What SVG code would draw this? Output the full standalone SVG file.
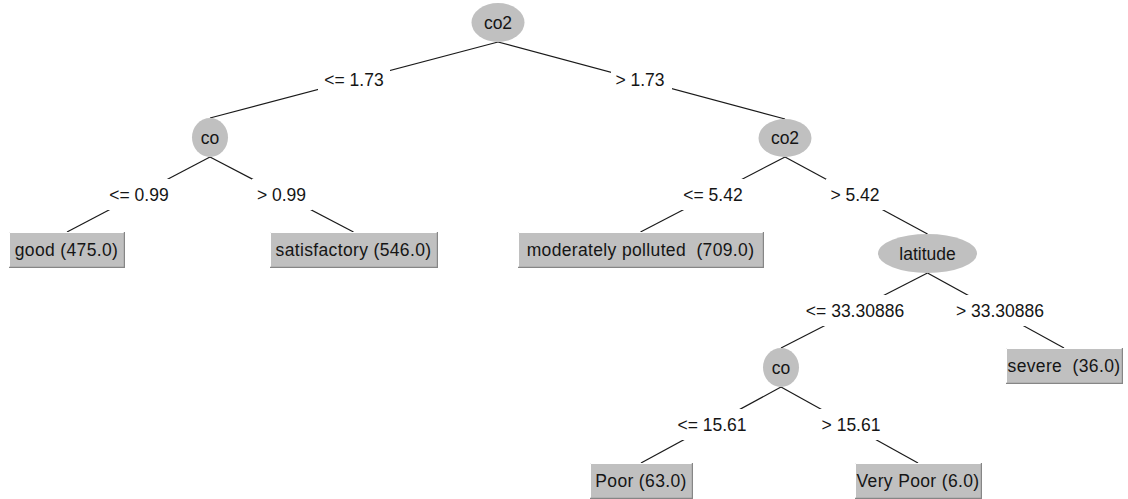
<svg xmlns="http://www.w3.org/2000/svg" width="1128" height="499" viewBox="0 0 1128 499">
<style>
text{font-family:"Liberation Sans",Arial,sans-serif;font-size:17.5px;fill:#151515;text-anchor:middle}
.bt{letter-spacing:0.35px}
.e{fill:#c0c0c0}
.b{fill:#c0c0c0}
.hl{stroke:#ffffff;stroke-width:1;fill:none}
.sh{stroke:#868686;stroke-width:1.2;fill:none}
.ln{stroke:#1a1a1a;stroke-width:1.2}
.lb{fill:#ffffff}
</style>
<rect width="1128" height="499" fill="#ffffff"/>
<g id="connectors">
  <g id="e1"><line class="ln" x1="498" y1="42" x2="210" y2="118"/><rect class="lb" x="318" y="65" width="72" height="31"/><text x="354" y="86">&lt;= 1.73</text></g>
  <g id="e2"><line class="ln" x1="498" y1="42" x2="785" y2="119"/><rect class="lb" x="611" y="65" width="61" height="31"/><text x="640" y="86">&gt; 1.73</text></g>
  <g id="e3"><line class="ln" x1="210" y1="157" x2="67" y2="232"/><rect class="lb" x="105" y="179" width="68" height="31"/><text x="139" y="201">&lt;= 0.99</text></g>
  <g id="e4"><line class="ln" x1="210" y1="157" x2="353.5" y2="232"/><rect class="lb" x="252" y="179" width="60" height="31"/><text x="281.5" y="201">&gt; 0.99</text></g>
  <g id="e5"><line class="ln" x1="785" y1="157" x2="640.5" y2="232"/><rect class="lb" x="679" y="179" width="68" height="31"/><text x="713" y="201">&lt;= 5.42</text></g>
  <g id="e6"><line class="ln" x1="785" y1="157" x2="927.5" y2="234"/><rect class="lb" x="826" y="179" width="60" height="31"/><text x="855" y="201">&gt; 5.42</text></g>
  <g id="e7"><line class="ln" x1="927.5" y1="273" x2="781" y2="348"/><rect class="lb" x="800" y="295" width="110" height="31"/><text x="855" y="317">&lt;= 33.30886</text></g>
  <g id="e8"><line class="ln" x1="927.5" y1="273" x2="1064" y2="348"/><rect class="lb" x="952" y="295" width="98" height="31"/><text x="1000" y="317">&gt; 33.30886</text></g>
  <g id="e9"><line class="ln" x1="781" y1="387" x2="641" y2="463"/><rect class="lb" x="672" y="409" width="80" height="31"/><text x="712" y="431">&lt;= 15.61</text></g>
  <g id="e10"><line class="ln" x1="781" y1="387" x2="918" y2="463"/><rect class="lb" x="817" y="409" width="68" height="31"/><text x="851" y="431">&gt; 15.61</text></g>
</g>
<g id="n-root"><ellipse class="e" cx="498" cy="22.5" rx="26.5" ry="19.5"/><text x="498" y="28.5">co2</text></g>
<g id="n-co1"><ellipse class="e" cx="210" cy="137.5" rx="18" ry="19.5"/><text x="210" y="143.5">co</text></g>
<g id="n-co2b"><ellipse class="e" cx="785" cy="138" rx="26.5" ry="19"/><text x="785" y="144">co2</text></g>
<g id="n-good"><rect class="b" x="9" y="232" width="115" height="35"/><path class="hl" d="M9.5 267V232.5H124"/><path class="sh" d="M9 267.4H124.4V232"/><text class="bt" x="66.5" y="255.5">good (475.0)</text></g>
<g id="n-sat"><rect class="b" x="270" y="232" width="167" height="35"/><path class="hl" d="M270.5 267V232.5H437"/><path class="sh" d="M270 267.4H437.4V232"/><text class="bt" x="353.5" y="255.5">satisfactory (546.0)</text></g>
<g id="n-mod"><rect class="b" x="518" y="232" width="245" height="35"/><path class="hl" d="M518.5 267V232.5H763"/><path class="sh" d="M518 267.4H763.4V232"/><text class="bt" x="640.5" y="255.5" xml:space="preserve">moderately polluted  (709.0)</text></g>
<g id="n-lat"><ellipse class="e" cx="927.5" cy="253.5" rx="49.5" ry="19.5"/><text x="927.5" y="259.5">latitude</text></g>
<g id="n-co3"><ellipse class="e" cx="781" cy="367.5" rx="18" ry="19.5"/><text x="781" y="373.5">co</text></g>
<g id="n-severe"><rect class="b" x="1006" y="348" width="116" height="35"/><path class="hl" d="M1006.5 383V348.5H1122"/><path class="sh" d="M1006 383.4H1122.4V348"/><text class="bt" x="1064" y="371.5" xml:space="preserve">severe  (36.0)</text></g>
<g id="n-poor"><rect class="b" x="590" y="463" width="102" height="35"/><path class="hl" d="M590.5 498V463.5H692"/><path class="sh" d="M590 498.4H692.4V463"/><text class="bt" x="641" y="486.5">Poor (63.0)</text></g>
<g id="n-vpoor"><rect class="b" x="855" y="463" width="126" height="35"/><path class="hl" d="M855.5 498V463.5H981"/><path class="sh" d="M855 498.4H981.4V463"/><text class="bt" x="918" y="486.5">Very Poor (6.0)</text></g>
</svg>
